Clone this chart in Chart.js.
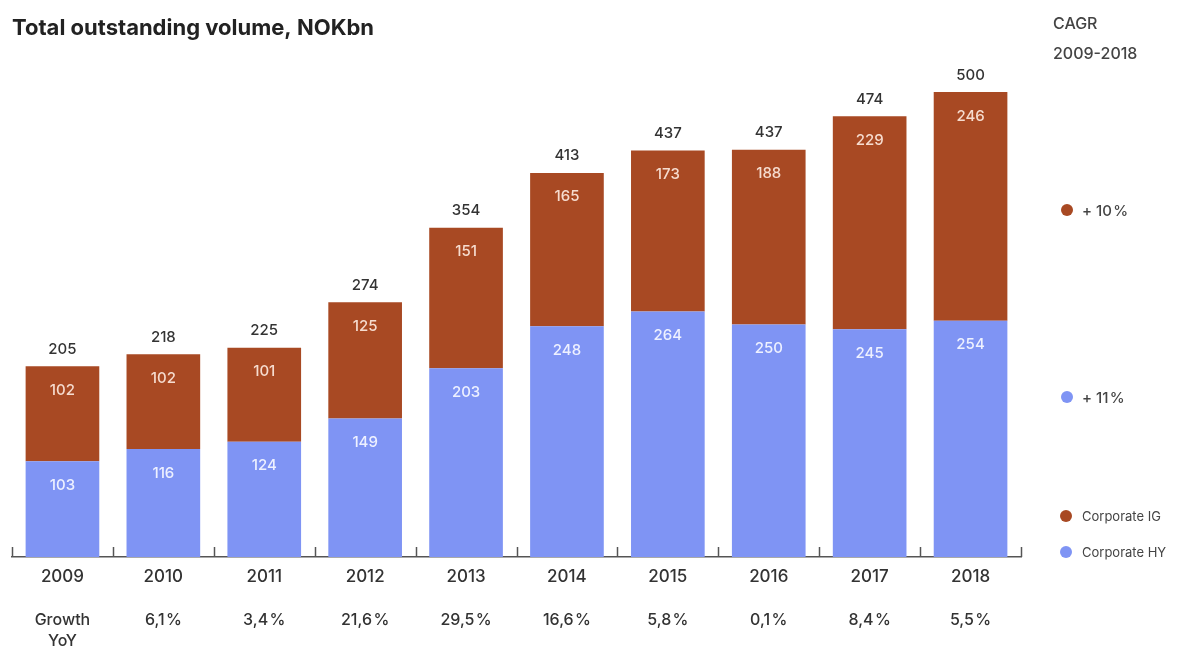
<!DOCTYPE html>
<html lang="en">
<head>
    <meta charset="UTF-8">
    <title>Total outstanding volume, NOKbn</title>
    <script src="https://cdn.jsdelivr.net/npm/chart.js"></script>
    <style>
        html, body { margin: 0; padding: 0; background: #fff; }
        .wrap { position: relative; width: 1185px; height: 648px; }
    </style>
</head>
<body>
    <div class="wrap">
        <canvas id="volumeChart" width="1185" height="648"></canvas>
    </div>
    <script>
        // Bond volumes per year, NOKbn
        const years = ['2009', '2010', '2011', '2012', '2013', '2014', '2015', '2016', '2017', '2018'];
        const corporateHY = [103, 116, 124, 149, 203, 248, 264, 250, 245, 254];
        const corporateIG = [102, 102, 101, 125, 151, 165, 173, 188, 229, 246];
        const totals = [205, 218, 225, 274, 354, 413, 437, 437, 474, 500];
        const growthYoY = ['', '6,1\u200a%', '3,4\u200a%', '21,6\u200a%', '29,5\u200a%', '16,6\u200a%', '5,8\u200a%', '0,1\u200a%', '8,4\u200a%', '5,5\u200a%'];
        const cagrIG = '+ 10\u200a%';
        const cagrHY = '+ 11\u200a%';

        const FONT = 'Inter, "Open Sans", sans-serif';
        const IG_COLOR = '#a84923';
        const HY_COLOR = '#7f94f4';
        const TEXT = '#333';

        // title, numbers in and above the bars, growth row, CAGR column and legend
        const annotations = {
            id: 'annotations',
            afterDraw(chart) {
                const ctx = chart.ctx;
                const x = chart.scales.x;
                const area = chart.chartArea;
                ctx.save();

                ctx.textAlign = 'left';
                ctx.textBaseline = 'middle';
                ctx.fillStyle = '#222';
                ctx.font = 'bold 22px ' + FONT;
                ctx.fillText('Total outstanding volume, NOKbn', 12, 28);

                ctx.textAlign = 'center';

                // values inside segments
                ctx.font = '500 15px ' + FONT;
                chart.getDatasetMeta(0).data.forEach((bar, i) => {
                    ctx.fillStyle = '#eef1ff';
                    ctx.fillText(corporateHY[i], bar.x, bar.y + 24);
                });
                chart.getDatasetMeta(1).data.forEach((bar, i) => {
                    ctx.fillStyle = '#f6dccf';
                    ctx.fillText(corporateIG[i], bar.x, bar.y + 24);
                    ctx.fillStyle = TEXT;
                    ctx.fillText(totals[i], bar.x, bar.y - 17);
                });

                // small upward ticks between categories
                ctx.strokeStyle = '#555';
                ctx.lineWidth = 1.5;
                const step = x.getPixelForValue(1) - x.getPixelForValue(0);
                for (let i = 0; i <= years.length; i++) {
                    const px = Math.round(x.getPixelForValue(0) - step / 2 + i * step) + 0.5;
                    ctx.beginPath();
                    ctx.moveTo(px, area.bottom - 10);
                    ctx.lineTo(px, area.bottom);
                    ctx.stroke();
                }

                // growth row
                ctx.fillStyle = TEXT;
                ctx.font = '500 16px ' + FONT;
                ctx.fillText('Growth', x.getPixelForValue(0), 620);
                ctx.fillText('YoY', x.getPixelForValue(0), 641);
                growthYoY.forEach((g, i) => {
                    if (g) ctx.fillText(g, x.getPixelForValue(i), 620);
                });

                // CAGR column
                ctx.textAlign = 'left';
                ctx.fillStyle = '#444';
                ctx.font = '500 16px ' + FONT;
                ctx.fillText('CAGR', 1053, 24);
                ctx.fillText('2009-2018', 1053, 54);

                const dot = (cx, cy, color) => {
                    ctx.fillStyle = color;
                    ctx.beginPath();
                    ctx.arc(cx, cy, 6, 0, Math.PI * 2);
                    ctx.fill();
                };
                ctx.font = '500 15px ' + FONT;
                dot(1067, 210, IG_COLOR);
                ctx.fillStyle = '#444';
                ctx.fillText(cagrIG, 1082, 211);
                dot(1067, 397, HY_COLOR);
                ctx.fillStyle = '#444';
                ctx.fillText(cagrHY, 1082, 398);

                // legend
                ctx.font = '13px ' + FONT;
                dot(1066, 516, IG_COLOR);
                ctx.fillStyle = '#444';
                ctx.fillText('Corporate IG', 1082, 517);
                dot(1066, 552, HY_COLOR);
                ctx.fillStyle = '#444';
                ctx.fillText('Corporate HY', 1082, 553);

                ctx.restore();
            }
        };

        const ctx = document.getElementById('volumeChart').getContext('2d');
        new Chart(ctx, {
            type: 'bar',
            data: {
                labels: years,
                datasets: [
                    { label: 'Corporate HY', data: corporateHY, backgroundColor: HY_COLOR },
                    { label: 'Corporate IG', data: corporateIG, backgroundColor: IG_COLOR }
                ]
            },
            options: {
                responsive: false,
                animation: false,
                layout: { padding: { left: 12, right: 164, top: 92, bottom: 0 } },
                datasets: { bar: { barPercentage: 0.73, categoryPercentage: 1.0 } },
                scales: {
                    x: {
                        stacked: true,
                        grid: { display: false },
                        border: { display: true, color: '#555', width: 1.5 },
                        ticks: { color: TEXT, font: { family: FONT, size: 17, weight: '500' }, padding: 2 },
                        afterFit(scale) { scale.height = 91; }
                    },
                    y: {
                        stacked: true,
                        display: false,
                        min: 0,
                        max: 500
                    }
                },
                plugins: {
                    legend: { display: false },
                    tooltip: { enabled: false },
                    title: { display: false }
                }
            },
            plugins: [annotations]
        });
    </script>
</body>
</html>
